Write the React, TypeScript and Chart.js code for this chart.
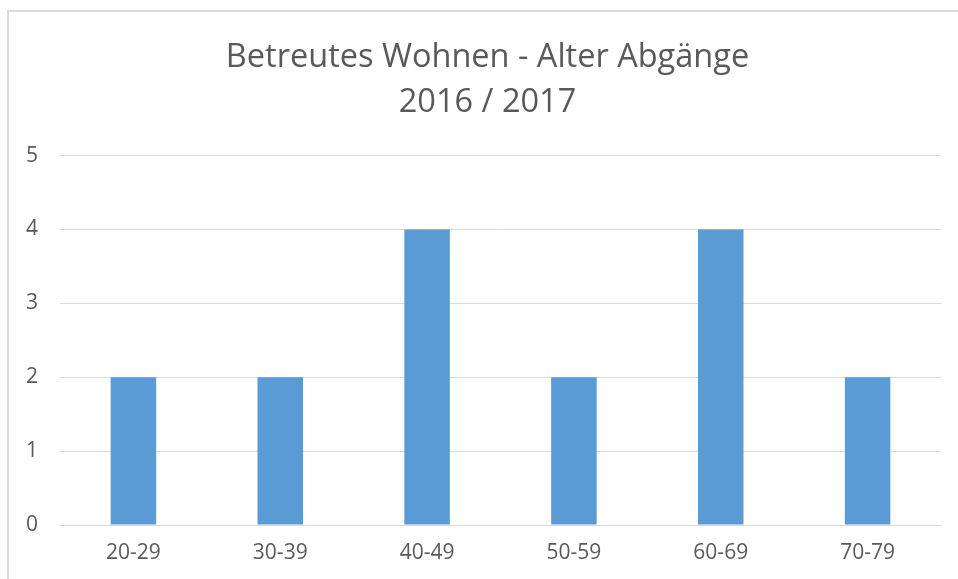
import React, { useEffect, useRef } from "react";
import { Chart, registerables } from "chart.js";

Chart.register(...registerables);

const titleLines = ["Betreutes Wohnen - Alter Abgänge", "2016 / 2017"];
const categories = ["20-29", "30-39", "40-49", "50-59", "60-69", "70-79"];
const values = [2, 2, 4, 2, 4, 2];
const yMin = 0;
const yMax = 5;
const yStep = 1;

export default function App() {
  const ref = useRef<HTMLCanvasElement | null>(null);
  useEffect(() => {
    if (!ref.current) return;
    const font = "'Open Sans', 'Liberation Sans', sans-serif";
    const chart = new Chart(ref.current, {
      type: "bar",
      data: {
        labels: categories,
        datasets: [
          {
            label: "Abgänge",
            data: values,
            backgroundColor: "#5b9bd5",
            borderWidth: 0,
            categoryPercentage: 1,
            barPercentage: 0.31,
            yAxisID: "y",
          },
        ],
      },
      options: {
        responsive: false,
        animation: false,
        layout: { padding: 0 },
        plugins: {
          legend: { display: false },
          tooltip: { enabled: false },
          title: {
            display: true,
            text: titleLines,
            color: "#595959",
            font: { family: font, size: 32.5, weight: "normal", lineHeight: 1.385 },
            padding: { top: 23, bottom: 30.5 },
          },
        },
        scales: {
          x: {
            grid: { display: false, drawTicks: false },
            border: { display: true, color: "#d9d9d9", width: 1 },
            ticks: {
              color: "#595959",
              font: { family: font, size: 21 },
              padding: 15,
              maxRotation: 0,
            },
            afterFit: (s: any) => {
              s.height = 54;
            },
          },
          y: {
            min: yMin,
            max: yMax,
            grid: { color: "#d9d9d9", lineWidth: 1, drawTicks: false },
            border: { display: false },
            ticks: {
              stepSize: yStep,
              color: "#595959",
              font: { family: font, size: 21 },
              padding: 22,
            },
            afterFit: (s: any) => {
              s.width = 51;
            },
          },
          yR: {
            position: "right",
            display: true,
            grid: { display: false, drawTicks: false },
            border: { display: false },
            ticks: { display: false },
            afterFit: (s: any) => {
              s.width = 25;
            },
          },
        },
      },
    });
    return () => chart.destroy();
  }, []);
  return (
    <div
      style={{
        position: "fixed",
        left: 7,
        top: 10,
        width: 960,
        height: 580,
        border: "2px solid #d9d9d9",
        background: "#fff",
        overflow: "hidden",
      }}
    >
      <canvas ref={ref} width={957} height={567} style={{ display: "block" }} />
    </div>
  );
}
